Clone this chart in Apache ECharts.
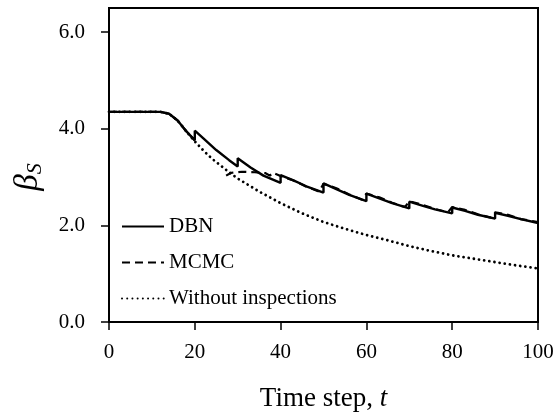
<!DOCTYPE html>
<html>
<head>
<meta charset="utf-8">
<script src="https://cdn.jsdelivr.net/npm/echarts@6/dist/echarts.min.js"></script>
<style>html,body{margin:0;padding:0;background:#fff;}#c{width:560px;height:417px;}</style>
</head>
<body>
<div id="c"></div>
<script>
// Time steps and reliability index values
const dbnT  = [0,5,10,12,14,16,18,20,20,22,25,28,30,30,33,36,40,40,43,46,50,50,53,56,60,60,63,66,70,70,73,76,80,80,83,86,90,90,93,96,100];
const dbnB  = [4.35,4.35,4.35,4.35,4.31,4.17,3.95,3.76,3.96,3.80,3.56,3.35,3.22,3.39,3.20,3.03,2.88,3.04,2.93,2.81,2.68,2.87,2.75,2.63,2.50,2.66,2.56,2.46,2.35,2.49,2.41,2.33,2.25,2.37,2.30,2.22,2.14,2.26,2.20,2.13,2.05];
const mcmcT = [0,5,10,12,14,16,18,20,24,27.3,28.5,31,34,36.5,37.5,38.2,40,43,46,49,50,53,56,59,60,63,66,69,70,73,76,79,80,83,86,89,90,93,96,100];
const mcmcB = [4.35,4.35,4.35,4.35,4.31,4.17,3.95,3.76,null,3.03,3.09,3.11,3.10,3.08,3.03,3.09,3.02,2.93,2.80,2.70,2.86,2.77,2.64,2.53,2.66,2.58,2.47,2.38,2.50,2.43,2.34,2.27,2.38,2.32,2.23,2.16,2.27,2.22,2.13,2.07];
const noInspT = [0,5,10,12,14,16,18,20,22,24,26,28,30,35,40,45,50,55,60,65,70,75,80,85,90,95,100];
const noInspB = [4.35,4.35,4.35,4.35,4.31,4.17,3.95,3.74,3.55,3.38,3.24,3.10,2.97,2.70,2.46,2.25,2.07,1.93,1.80,1.69,1.57,1.47,1.38,1.31,1.24,1.17,1.11];
const xTicks = [0,20,40,60,80,100];
const yTicks = [0,2,4,6];
const seriesNames = ['DBN','MCMC','Without inspections'];

const pair = (t,b) => t.map((x,i) => [x, b[i] === null ? '-' : b[i]]);
const FONT = 'Liberation Serif';

const chart = echarts.init(document.getElementById('c'), null, {renderer:'canvas'});
chart.setOption({
  animation: false,
  backgroundColor: '#fff',
  grid: {left:109, right:22, top:8, bottom:93, show:true, borderColor:'#000', borderWidth:2, backgroundColor:'transparent'},
  legend: {
    orient:'vertical', left:116, top:211,
    itemWidth:42, itemHeight:14, itemGap:15,
    data: seriesNames,
    itemStyle:{opacity:0, borderWidth:0},
    textStyle:{fontFamily:FONT, fontSize:21, color:'#000', lineHeight:20}
  },
  xAxis: {
    type:'value', min:0, max:100, interval:20,
    axisLine:{show:true, lineStyle:{color:'#000', width:2}},
    axisTick:{show:true, inside:false, length:8, lineStyle:{color:'#000', width:1.5}, customValues:xTicks},
    axisLabel:{fontFamily:FONT, fontSize:21, color:'#000', margin:20, customValues:xTicks},
    splitLine:{show:false},
    name:'Time step, {i|t}', nameLocation:'middle', nameGap:63,
    nameTextStyle:{fontFamily:FONT, fontSize:27, color:'#000',
      rich:{i:{fontFamily:FONT, fontSize:27, fontStyle:'italic', color:'#000'}}}
  },
  yAxis: {
    type:'value', min:0, max:6.5, interval:2,
    axisLine:{show:true, lineStyle:{color:'#000', width:2}},
    axisTick:{show:true, inside:false, length:8, lineStyle:{color:'#000', width:1.5}, customValues:yTicks},
    axisLabel:{fontFamily:FONT, fontSize:21, color:'#000', margin:24, customValues:yTicks,
      formatter: v => v.toFixed(1)},
    splitLine:{show:false},
    name:'{b|β}{s|S}', nameLocation:'middle', nameGap:63,
    nameTextStyle:{fontFamily:FONT, color:'#000', padding:[0,24,0,0],
      rich:{
        b:{fontFamily:FONT, fontSize:33, fontStyle:'italic', color:'#000', lineHeight:36},
        s:{fontFamily:FONT, fontSize:22, fontStyle:'italic', color:'#000', lineHeight:18, verticalAlign:'bottom'}
      }}
  },
  series: [
    {name:seriesNames[0], type:'line', data:pair(dbnT,dbnB), showSymbol:false, symbol:'none', z:5,
      lineStyle:{color:'#000', width:2.4, type:'solid'}, itemStyle:{color:'#000'}},
    {name:seriesNames[1], type:'line', data:pair(mcmcT,mcmcB), showSymbol:false, symbol:'none', z:4, connectNulls:false,
      lineStyle:{color:'#000', width:2.2, type:[8,5]}, itemStyle:{color:'#000'}},
    {name:seriesNames[2], type:'line', data:pair(noInspT,noInspB), showSymbol:false, symbol:'none', z:3,
      lineStyle:{color:'#000', width:2.8, type:[0.01,5.2], cap:'round'}, itemStyle:{color:'#000'}}
  ]
});
</script>
</body>
</html>
